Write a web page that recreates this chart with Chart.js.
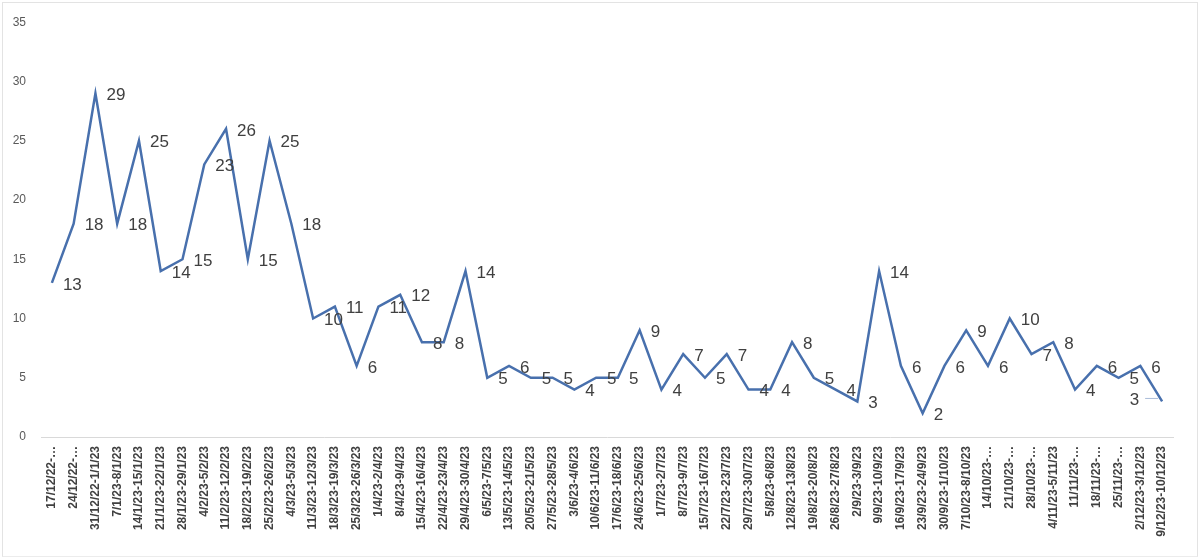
<!DOCTYPE html>
<html>
<head>
<meta charset="utf-8">
<script src="https://cdn.jsdelivr.net/npm/chart.js@4.4.0/dist/chart.umd.min.js"></script>
<style>
  html, body { margin: 0; padding: 0; background: #fff; }
  #wrap { position: absolute; left: 2px; top: 2px; width: 1194px; height: 553px; border: 1px solid #e3e3e3; border-bottom-color: #ececec; }
  canvas { position: absolute; left: -3px; top: -3px; }
</style>
</head>
<body>
<div id="wrap"><canvas id="myChart" width="1200" height="558"></canvas></div>
<script>
// weekly periods
const weeks = [
  '17/12/22-…', '24/12/22-…', '31/12/22-1/1/23', '7/1/23-8/1/23', '14/1/23-15/1/23',
  '21/1/23-22/1/23', '28/1/23-29/1/23', '4/2/23-5/2/23', '11/2/23-12/2/23', '18/2/23-19/2/23',
  '25/2/23-26/2/23', '4/3/23-5/3/23', '11/3/23-12/3/23', '18/3/23-19/3/23', '25/3/23-26/3/23',
  '1/4/23-2/4/23', '8/4/23-9/4/23', '15/4/23-16/4/23', '22/4/23-23/4/23', '29/4/23-30/4/23',
  '6/5/23-7/5/23', '13/5/23-14/5/23', '20/5/23-21/5/23', '27/5/23-28/5/23', '3/6/23-4/6/23',
  '10/6/23-11/6/23', '17/6/23-18/6/23', '24/6/23-25/6/23', '1/7/23-2/7/23', '8/7/23-9/7/23',
  '15/7/23-16/7/23', '22/7/23-23/7/23', '29/7/23-30/7/23', '5/8/23-6/8/23', '12/8/23-13/8/23',
  '19/8/23-20/8/23', '26/8/23-27/8/23', '2/9/23-3/9/23', '9/9/23-10/9/23', '16/9/23-17/9/23',
  '23/9/23-24/9/23', '30/9/23-1/10/23', '7/10/23-8/10/23', '14/10/23-…', '21/10/23-…',
  '28/10/23-…', '4/11/23-5/11/23', '11/11/23-…', '18/11/23-…', '25/11/23-…',
  '2/12/23-3/12/23', '9/12/23-10/12/23'
];

// counts per week
const counts = [
  13, 18, 29, 18, 25, 14, 15, 23, 26, 15,
  25, 18, 10, 11, 6, 11, 12, 8, 8, 14,
  5, 6, 5, 5, 4, 5, 5, 9, 4, 7,
  5, 7, 4, 4, 8, 5, 4, 3, 14, 6,
  2, 6, 9, 6, 10, 7, 8, 4, 6, 5,
  6, 3
];

const yTicks = [0, 5, 10, 15, 20, 25, 30, 35];

// value labels to the right of each point (last one sits left with a leader line)
const valueLabels = {
  id: 'valueLabels',
  afterDatasetsDraw(chart) {
    const ctx = chart.ctx;
    const meta = chart.getDatasetMeta(0);
    ctx.save();
    ctx.font = '17px "Liberation Sans", Arial, sans-serif';
    ctx.fillStyle = '#404040';
    ctx.textBaseline = 'middle';
    meta.data.forEach(function(pt, i) {
      const v = chart.data.datasets[0].data[i];
      if (i === meta.data.length - 1) {
        ctx.strokeStyle = '#a9bcd8';
        ctx.lineWidth = 1;
        ctx.beginPath();
        ctx.moveTo(pt.x - 17, pt.y - 3);
        ctx.lineTo(pt.x - 4, pt.y - 3);
        ctx.stroke();
        ctx.textAlign = 'right';
        ctx.fillText(v, pt.x - 23, pt.y - 1);
      } else {
        ctx.textAlign = 'left';
        ctx.fillText(v, pt.x + 11, pt.y + 2);
      }
    });
    ctx.restore();
  }
};

const ctx = document.getElementById('myChart').getContext('2d');
new Chart(ctx, {
  type: 'line',
  data: {
    labels: weeks,
    datasets: [{
      data: counts,
      borderColor: '#4870ad',
      borderWidth: 2.5,
      pointRadius: 0,
      tension: 0,
      fill: false
    }]
  },
  options: {
    responsive: false,
    animation: false,
    layout: { padding: { top: 16, right: 27, bottom: 0, left: 0 } },
    plugins: {
      legend: { display: false },
      tooltip: { enabled: false }
    },
    scales: {
      x: {
        offset: true,
        grid: { display: false, drawTicks: false },
        border: { display: true, color: '#d9d9d9', width: 1 },
        afterFit: function(scale) { scale.height = 121; },
        ticks: {
          autoSkip: false,
          minRotation: 90,
          maxRotation: 90,
          padding: 9,
          color: '#404040',
          font: { family: '"Liberation Sans", Arial, sans-serif', size: 12, weight: 'bold' }
        }
      },
      y: {
        min: 0,
        max: 35,
        grid: { display: false, drawTicks: false },
        border: { display: false },
        afterFit: function(scale) { scale.width = 41; },
        afterBuildTicks: function(scale) {
          scale.ticks = yTicks.map(function(v) { return { value: v }; });
        },
        ticks: {
          padding: 15,
          color: '#595959',
          font: { family: '"Liberation Sans", Arial, sans-serif', size: 12 }
        }
      }
    }
  },
  plugins: [valueLabels]
});
</script>
</body>
</html>
